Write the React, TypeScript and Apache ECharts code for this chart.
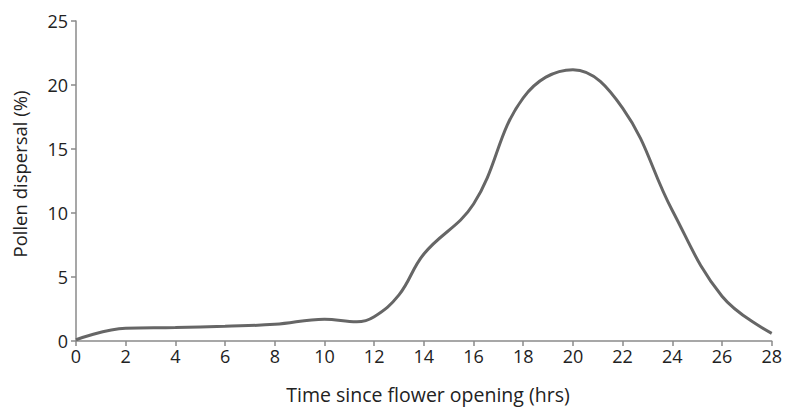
import React, { useEffect, useRef } from "react";
import * as echarts from "echarts";

const hours = [0, 2, 4, 6, 8, 10, 11.3, 12, 13, 14, 16, 18, 20, 22, 24, 26, 28];
const dispersal = [0.1, 1.0, 1.05, 1.15, 1.3, 1.7, 1.5, 1.9, 3.6, 6.8, 10.7, 19.0, 21.2, 18.2, 10.2, 3.5, 0.6];
const xTitle = "Time since flower opening (hrs)";
const yTitle = "Pollen dispersal (%)";

export default function App() {
  const ref = useRef<HTMLDivElement>(null);
  useEffect(() => {
    const chart = echarts.init(ref.current!, null, { renderer: "svg" });
    const font = "Open Sans";
    chart.setOption({
      animation: false,
      grid: { left: 76, right: 12, top: 21, bottom: 66 },
      graphic: [
        {
          type: "text",
          x: 428,
          y: 394,
          style: { text: xTitle, font: `19.5px "${font}"`, fill: "#222", textAlign: "center", textVerticalAlign: "middle" },
        },
        {
          type: "text",
          x: 19,
          y: 174,
          rotation: Math.PI / 2,
          style: { text: yTitle, font: `18.5px "${font}"`, fill: "#222", textAlign: "center", textVerticalAlign: "middle" },
        },
      ],
      xAxis: {
        type: "value",
        min: 0,
        max: 28,
        interval: 2,
        axisLine: { lineStyle: { color: "#8a8a8a", width: 1.5 } },
        axisTick: { show: true, length: 5, lineStyle: { color: "#8a8a8a", width: 1.5 } },
        axisLabel: { fontFamily: font, fontSize: 18, color: "#222", margin: 6 },
        splitLine: { show: false },
      },
      yAxis: {
        type: "value",
        min: 0,
        max: 25,
        interval: 5,
        axisLine: { show: true, lineStyle: { color: "#8a8a8a", width: 1.5 } },
        axisTick: { show: true, length: 5, lineStyle: { color: "#8a8a8a", width: 1.5 } },
        axisLabel: { fontFamily: font, fontSize: 18, color: "#222", margin: 8 },
        splitLine: { show: false },
      },
      series: [
        {
          type: "line",
          data: hours.map((h, i) => [h, dispersal[i]]),
          smooth: 0.4,
          showSymbol: false,
          lineStyle: { color: "#666", width: 3 },
        },
      ],
    });
    return () => chart.dispose();
  }, []);
  return <div ref={ref} style={{ width: 785, height: 407, position: "absolute", left: 0, top: 0 }} />;
}
